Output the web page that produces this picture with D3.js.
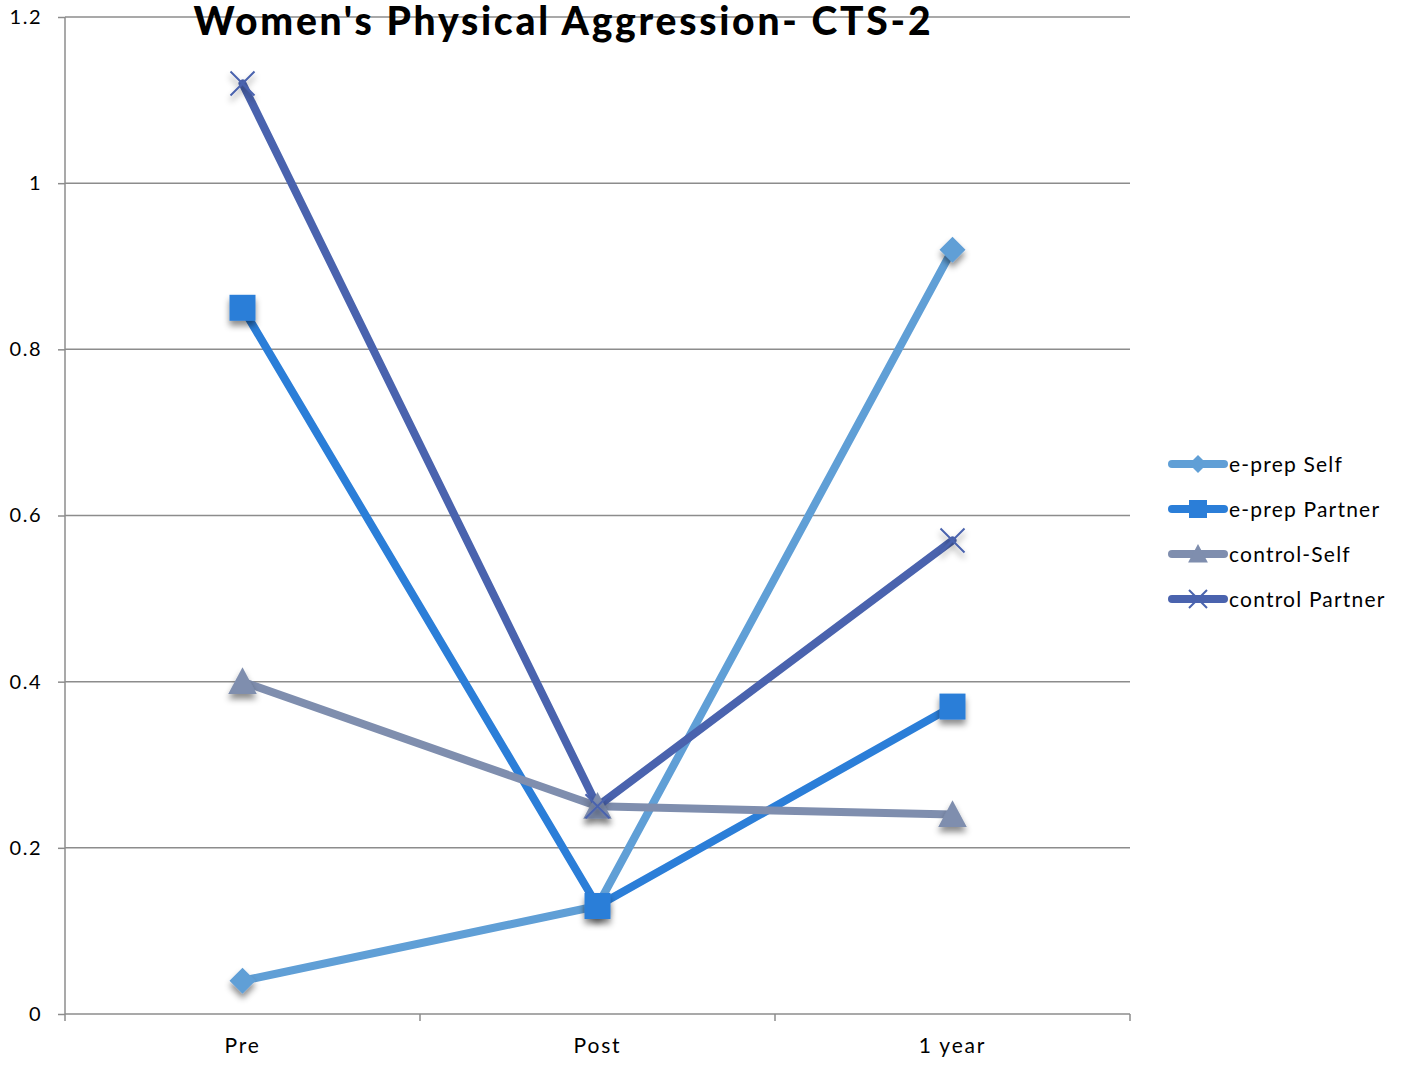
<!DOCTYPE html>
<html lang="en">
<head>
    <meta charset="UTF-8">
    <title>Women's Physical Aggression- CTS-2</title>
    <style>
        body { margin: 0; background: #fff; }
        text { font-family: "Lato", "DejaVu Sans", sans-serif; }
    </style>
</head>
<body>
    <div id="chart"></div>
    <script src="https://d3js.org/d3.v7.min.js"></script>
    <script>
        // data
        var categories = ["Pre", "Post", "1 year"];
        var seriesNames = ["e-prep Self", "e-prep Partner", "control-Self", "control Partner"];
        var eprepSelf = [0.04, 0.13, 0.92];
        var eprepPartner = [0.85, 0.13, 0.37];
        var controlSelf = [0.40, 0.25, 0.24];
        var controlPartner = [1.12, 0.25, 0.57];
        var yTicks = [0, 0.2, 0.4, 0.6, 0.8, 1, 1.2];

        var colors = ["#609fd6", "#2b7ed8", "#7f8eae", "#4a63ae"];
        var markers = ["diamond", "square", "triangle", "cross"];
        var allValues = [eprepSelf, eprepPartner, controlSelf, controlPartner];

        var margin = {top: 17, right: 272, bottom: 53, left: 65},
            width = 1402 - margin.left - margin.right,
            height = 1067 - margin.top - margin.bottom;

        var svg = d3.select("#chart")
            .append("svg")
            .attr("width", 1402)
            .attr("height", 1067);

        // soft shadow for markers
        var defs = svg.append("defs");
        var filt = defs.append("filter").attr("id", "shadow")
            .attr("x", "-50%").attr("y", "-50%").attr("width", "200%").attr("height", "200%");
        filt.append("feDropShadow")
            .attr("dx", 0).attr("dy", 5).attr("stdDeviation", 3)
            .attr("flood-color", "#000").attr("flood-opacity", 0.45);

        var g = svg.append("g")
            .attr("transform", "translate(" + margin.left + "," + margin.top + ")");

        var x = d3.scaleBand().domain(categories).range([0, width]);
        var y = d3.scaleLinear().domain([0, 1.2]).range([height, 0]);

        // gridlines
        g.selectAll(".grid")
            .data(yTicks.slice(1))
            .enter()
            .append("line")
            .attr("x1", 0)
            .attr("x2", width)
            .attr("y1", function(d) { return y(d); })
            .attr("y2", function(d) { return y(d); })
            .style("stroke", "#8c8c8c")
            .style("stroke-width", 1.5);

        // y axis
        var yAxis = g.append("g")
            .call(d3.axisLeft(y).tickValues(yTicks).tickSize(7).tickPadding(16)
                .tickFormat(function(d) { return d3.format("")(d); }));
        yAxis.select(".domain").style("stroke", "#8c8c8c").style("stroke-width", 1.5)
            .attr("d", "M0," + (height + 7) + "V0");
        yAxis.selectAll(".tick line").style("stroke", "#8c8c8c").style("stroke-width", 1.5);
        yAxis.selectAll("text").style("font-size", "20px").style("fill", "#000")
            .style("letter-spacing", "1.5px");

        // x axis
        var xAxis = g.append("g")
            .attr("transform", "translate(0," + height + ")")
            .call(d3.axisBottom(x).tickSize(0).tickPadding(24));
        xAxis.select(".domain").style("stroke", "#8c8c8c").style("stroke-width", 1.5)
            .attr("d", "M0,0H" + width);
        xAxis.selectAll("text").style("font-size", "21px").style("fill", "#000")
            .style("letter-spacing", "1.8px");
        // category boundary ticks
        g.selectAll(".xbound")
            .data(categories)
            .enter()
            .append("line")
            .attr("x1", function(d) { return x(d) + x.bandwidth(); })
            .attr("x2", function(d) { return x(d) + x.bandwidth(); })
            .attr("y1", height)
            .attr("y2", height + 7)
            .style("stroke", "#8c8c8c")
            .style("stroke-width", 1.5);

        var cx = function(i) { return x(categories[i]) + x.bandwidth() / 2; };

        function drawMarker(sel, type, color, s) {
            if (type === "diamond") {
                sel.append("path")
                    .attr("d", "M0," + (-s) + "L" + s + ",0L0," + s + "L" + (-s) + ",0Z")
                    .style("fill", color);
            } else if (type === "square") {
                sel.append("rect")
                    .attr("x", -s).attr("y", -s).attr("width", 2 * s).attr("height", 2 * s)
                    .style("fill", color);
            } else if (type === "triangle") {
                sel.append("path")
                    .attr("d", "M0," + (-s * 1.1) + "L" + (s * 1.1) + "," + (s * 0.95) + "L" + (-s * 1.1) + "," + (s * 0.95) + "Z")
                    .style("fill", color);
            } else {
                sel.append("path")
                    .attr("d", "M" + (-s) + "," + (-s) + "L" + s + "," + s + "M" + s + "," + (-s) + "L" + (-s) + "," + s)
                    .style("stroke", color)
                    .style("stroke-width", 2)
                    .style("fill", "none");
            }
        }

        var line = d3.line()
            .x(function(d, i) { return cx(i); })
            .y(function(d) { return y(d); });

        // series lines first, then markers on top
        allValues.forEach(function(vals, k) {
            g.append("path")
                .datum(vals)
                .attr("d", line)
                .style("fill", "none")
                .style("stroke", colors[k])
                .style("stroke-width", 8)
                .style("stroke-linejoin", "round")
                .style("stroke-linecap", "round");
        });
        allValues.forEach(function(vals, k) {
            vals.forEach(function(v, i) {
                var m = g.append("g")
                    .attr("transform", "translate(" + cx(i) + "," + y(v) + ")")
                    .attr("filter", "url(#shadow)");
                drawMarker(m, markers[k], colors[k], markers[k] === "cross" ? 12 : 13);
            });
        });

        // title
        svg.append("text")
            .attr("x", 562)
            .attr("y", 35)
            .attr("text-anchor", "middle")
            .attr("textLength", 737)
            .attr("lengthAdjust", "spacing")
            .style("font-size", "39px")
            .style("font-weight", "900")
            .text("Women's Physical Aggression- CTS-2");

        // legend
        var legend = svg.append("g").attr("transform", "translate(1168,464)");
        seriesNames.forEach(function(name, k) {
            var row = legend.append("g").attr("transform", "translate(0," + (k * 45) + ")");
            row.append("line")
                .attr("x1", 4).attr("x2", 56).attr("y1", 0).attr("y2", 0)
                .style("stroke", colors[k])
                .style("stroke-width", 8)
                .style("stroke-linecap", "round");
            drawMarker(row.append("g").attr("transform", "translate(30,0)"), markers[k], colors[k], 9);
            row.append("text")
                .attr("x", 61)
                .attr("y", 8)
                .style("font-size", "21px")
                .style("letter-spacing", "1.2px")
                .text(name);
        });
    </script>
</body>
</html>
